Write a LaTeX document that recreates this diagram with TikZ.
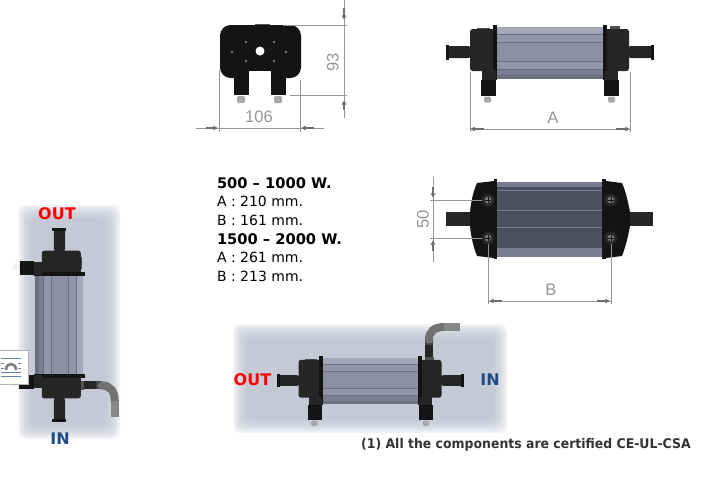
\documentclass[tikz,border=0pt]{standalone}
\usepackage{fontspec}
\setmainfont{DejaVu Sans}
\newfontfamily\notefont{DejaVu Sans}[FakeStretch=0.935]
\newfontfamily\dimfont{Liberation Sans}
\usetikzlibrary{positioning,arrows.meta}
\definecolor{panelc}{HTML}{BCC0D0}
\definecolor{capc}{HTML}{262626}
\definecolor{blackc}{HTML}{141414}
\definecolor{nutc}{HTML}{A8A8A8}
\definecolor{dimc}{HTML}{969696}
\definecolor{tipc}{HTML}{6E6E6E}
\definecolor{outc}{HTML}{FF0000}
\definecolor{inc}{HTML}{1F4A86}
\definecolor{alulight}{HTML}{A4A8B8}
\definecolor{aluband}{HTML}{9296A9}
\definecolor{alumain}{HTML}{8C8FA2}
\definecolor{alumid}{HTML}{7A7E91}
\definecolor{aludark}{HTML}{6A6E80}
\definecolor{topdark}{HTML}{4C4F5E}
\definecolor{toplight}{HTML}{777B90}
\begin{document}
\begin{tikzpicture}[x=0.75pt,y=-0.75pt,
      specline/.style={inner sep=0pt, outer sep=0pt, minimum height=14pt, text height=8pt, text depth=2pt, font=\fontsize{10.5}{12}\selectfont},
      powerline/.style={specline, font=\fontsize{11}{13}\selectfont\bfseries},
      tagtext/.style={inner sep=0pt, font=\fontsize{12}{14}\selectfont\bfseries},
      dimtext/.style={inner sep=0pt, text=dimc, font=\dimfont\fontsize{12.5}{14}\selectfont},
      dimline/.style={draw=dimc, line width=0.6pt},
      dimtip/.style={draw=tipc, line width=1.2pt, -{Latex[length=3.5pt,width=4pt]}},
      capbox/.style={fill=capc, rounded corners=2pt},
      darkbox/.style={fill=blackc},
      nutbox/.style={fill=nutc, rounded corners=1pt},
      pipeseg/.style={line width=6pt},
      heater/.pic={
        \foreach \ya/\yb/\col in {-26/-19/alulight, -19/-18/aludark, -18/-11/aluband, -11/-10/aludark, -10/8/alumain,
            8/9/aludark, 9/16/aluband, 16/17/aludark, 17/22/alumid, 22/26/aludark}
          \fill[\col] (-53,\ya) rectangle (53,\yb);
        \fill[capbox] (-80,-23.5) rectangle (-53,18.5);
        \fill[capbox] (53,-23.5) rectangle (79,18.5);
        \fill[darkbox] (-57,-28) rectangle (-53,27);
        \fill[darkbox] (53,-28) rectangle (57,27);
        \fill[capc!80!white] (60,-27) rectangle (70,-23.5);
        \fill[capc!85!white] (-73,-25) rectangle (-60,-23.5);
        \fill[capbox] (-103,-6.5) rectangle (-79,5.5);
        \fill[capbox] (78,-6.5) rectangle (103,5.5);
        \fill[darkbox] (-104,-8) rectangle (-101,7);
        \fill[darkbox] (101,-8) rectangle (104,7);
        \fill[capc] (-68,18) rectangle (-54,27);
        \fill[capc] (54,18) rectangle (68,27);
        \fill[darkbox] (-69,27) rectangle (-54,43);
        \fill[darkbox] (54,27) rectangle (69,43);
        \fill[nutbox] (-66,44) rectangle (-59,50);
        \fill[nutbox] (58,44) rectangle (65,50);
      },
      heaterpipe/.pic={
        \draw[pipeseg, draw=capc] (65,-25) -- (65,-40);
        \draw[pipeseg, draw=capc!85!white] (65,-40) -- (65,-46);
        \draw[pipeseg, draw=capc!65!white, line cap=round] (65,-46) .. controls (65,-55) and (71,-60) .. (82,-60);
        \draw[pipeseg, draw=capc!55!white] (82,-60) -- (99,-60);
      }]
  \useasboundingbox (0,0) rectangle (711,482);
  \fill[white] (0,0) rectangle (711,482);

  \foreach \d in {0,2,...,14}{
    \fill[panelc, opacity=0.2, rounded corners=6pt] (233+\d,324+\d) rectangle (507-\d,433-\d);
    \fill[panelc, opacity=0.2, rounded corners=6pt] (18+\d,205+\d) rectangle (120-\d,439-\d);
  }

  % side view
  \pic at (550,52.5) {heater};
  \coordinate (aleft) at (470,72);
  \coordinate (aright) at (630,72);
  \coordinate (aleftdim) at (470,129);
  \coordinate (arightdim) at (630,129);
  \draw[dimline] (aleft) -- (470,132);
  \draw[dimline] (aright) -- (630,132);
  \draw[dimline] (aleftdim) -- (arightdim);
  \draw[dimtip] (484,129) -- (aleftdim);
  \draw[dimtip] (616,129) -- (arightdim);
  \node[dimtext] (alabel) at (553,118) {A};

  % top view
  \foreach \ya/\yb/\col in {182/187/toplight, 187/189.5/topdark, 189.5/191/toplight, 191/209.5/topdark, 209.5/211/toplight,
      211/226.5/topdark, 226.5/228/toplight, 228/247.5/topdark, 247.5/249/toplight, 249/257/alumid}
    \fill[\col] (497,\ya) rectangle (602,\yb);
  \fill[blackc] (477,183) -- (494,181) -- (494,258) -- (477,256) .. controls (473,246) and (471,236) .. (470,226)
    -- (470,212) .. controls (471,202) and (473,192) .. (477,183) -- cycle;
  \fill[blackc] (622,183) -- (606,181) -- (606,258) -- (622,256) .. controls (626,246) and (628,236) .. (630,226)
    -- (630,212) .. controls (628,202) and (626,192) .. (622,183) -- cycle;
  \fill[blackc] (494,179) rectangle (497,259);
  \fill[blackc] (602,179) rectangle (606,259);
  \fill[capc] (446,212) rectangle (470,226);
  \fill[capc] (630,212) rectangle (653,226);
  \foreach \sx/\sy in {488/200, 611/200, 488/238, 611/238}{
    \fill[capc] (\sx,\sy) circle[radius=6.5];
    \fill[nutc!70!black] (\sx,\sy) circle[radius=3.5];
    \draw[blackc, line width=0.5pt] (\sx-3,\sy) -- (\sx+3,\sy) (\sx,\sy-3) -- (\sx,\sy+3);
  }
  \draw[dimline] (433,177) -- (433,262);
  \draw[dimline] (430,200) -- (482,200);
  \draw[dimline] (430,238) -- (482,238);
  \draw[dimtip] (433,187) -- (433,198);
  \draw[dimtip] (433,251) -- (433,240);
  \node[dimtext, rotate=90] (fiftylabel) at (423,219) {50};
  \draw[dimline] (488,244) -- (488,304);
  \draw[dimline] (611,244) -- (611,304);
  \draw[dimline] (488,301) -- (611,301);
  \draw[dimtip] (502,301) -- (489,301);
  \draw[dimtip] (597,301) -- (610,301);
  \node[dimtext] (blabel) at (551,290) {B};

  % front view
  \fill[capc!80!white] (255,24) rectangle (270,30);
  \fill[blackc, rounded corners=8pt] (220,25) rectangle (301,78);
  \fill[white] (249,71) rectangle (271,80);
  \fill[blackc] (234,70) rectangle (249,95);
  \fill[blackc] (271,70) rectangle (286,95);
  \fill[nutbox] (237,96) rectangle (245,103);
  \fill[nutbox] (274,96) rectangle (282,103);
  \foreach \sx/\sy in {246/42, 274/42, 232/52, 286/52, 246/61, 274/61}
    \fill[nutc!70!black] (\sx,\sy) circle[radius=1.3];
  \fill[white] (260,51) circle[radius=4.5];
  \draw[dimline] (283,25) -- (347,25);
  \draw[dimline] (290,95) -- (347,95);
  \draw[dimline] (344,0) -- (344,118);
  \draw[dimtip] (344,8) -- (344,20);
  \draw[dimtip] (344,110) -- (344,100);
  \node[dimtext, rotate=90] (depthlabel) at (333,62) {93};
  \draw[dimline] (219,70) -- (219,132);
  \draw[dimline] (300,80) -- (300,132);
  \draw[dimline] (196,128) -- (324,128);
  \draw[dimtip] (206,128) -- (218,128);
  \draw[dimtip] (314,128) -- (301,128);
  \node[dimtext] (widthlabel) at (259,117) {106};

  % power table
  \node[powerline, anchor=west] (powera) at (217,184) {500 -- 1000 W.};
  \node[specline, below=0pt of powera.south west, anchor=north west] (sizeaa) {A : 210 mm.};
  \node[specline, below=0pt of sizeaa.south west, anchor=north west] (sizeab) {B : 161 mm.};
  \node[powerline, below=0pt of sizeab.south west, anchor=north west] (powerb) {1500 -- 2000 W.};
  \node[specline, below=0pt of powerb.south west, anchor=north west] (sizeba) {A : 261 mm.};
  \node[specline, below=0pt of sizeba.south west, anchor=north west] (sizebb) {B : 213 mm.};

  % mounted views
  \pic[scale=0.9] at (370.5,381) {heaterpipe};
  \pic[scale=0.9] at (370.5,381) {heater};
  \node[tagtext, text=outc] (outb) at (252.5,380) {OUT};
  \node[tagtext, text=inc] (inb) at (490,380) {IN};

  \pic[scale=0.93, rotate=-90] at (59,325) {heaterpipe};
  \pic[scale=0.93, rotate=-90] at (59,325) {heater};
  \fill[white, opacity=0.85] (10,254) rectangle (20,280);
  \node[tagtext, text=outc] (outa) at (57,214) {OUT};
  \node[tagtext, text=inc] (ina) at (60,439) {IN};

  % page widget
  \fill[white, draw=black!30, line width=0.6pt] (-1,350) rectangle (28,384);
  \foreach \ly in {358,363,368,372,376}
    \draw[inc!70!white, line width=0.7pt] (1,\ly) -- (21,\ly);
  \fill[white] (4,360) rectangle (18,371);
  \draw[black!50, line width=2pt] (6,370) .. controls (6,362) and (16,362) .. (16,370);

  \node[inner sep=0pt, anchor=east, font=\notefont\fontsize{10}{12}\selectfont\bfseries, text=black!80] (note) at (691,445) {(1) All the components are certified CE-UL-CSA};
\end{tikzpicture}
\end{document}
